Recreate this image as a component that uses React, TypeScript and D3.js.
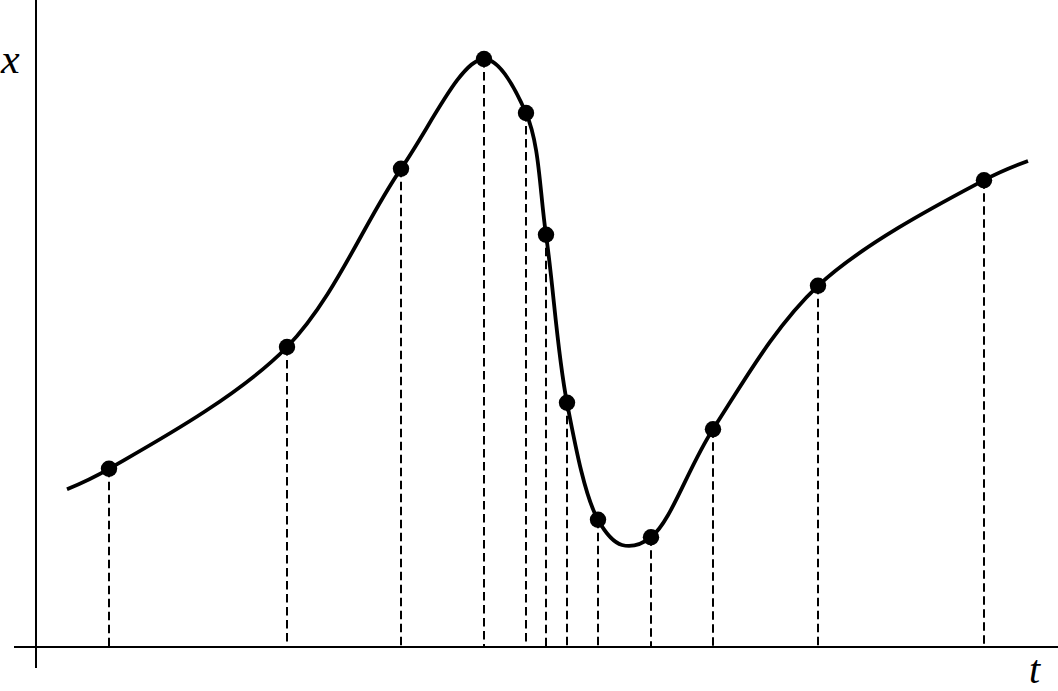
import React from "react";
import * as d3 from "d3";

// Sample instants (t) and values (x) of the marked points
const sampleT = [0.73, 2.51, 3.65, 4.48, 4.9, 5.1, 5.31, 5.62, 6.15, 6.77, 7.82, 9.48];
const sampleX = [2.97, 5.0, 7.97, 9.8, 8.9, 6.87, 4.07, 2.12, 1.83, 3.63, 6.02, 7.78];

// Extra points of the continuous curve (start, trough, end)
const extraT = [0.31, 5.86, 9.92];
const extraX = [2.63, 1.7, 8.1];

const W = 1058;
const H = 691;

export default function App() {
  const xs = d3.scaleLinear().domain([0, 10]).range([36, 1036]);
  const ys = d3.scaleLinear().domain([0, 10]).range([647, 47]);

  const samples = sampleT.map((t, i) => ({ t, x: sampleX[i] }));
  const curvePts = [...samples, ...extraT.map((t, i) => ({ t, x: extraX[i] }))].sort(
    (a, b) => a.t - b.t
  );

  const line = d3
    .line<{ t: number; x: number }>()
    .x((d) => xs(d.t))
    .y((d) => ys(d.x))
    .curve(d3.curveCatmullRom.alpha(0.5));

  const y0 = ys(0);
  const x0 = xs(0);

  return (
    <svg
      width={W}
      height={H}
      style={{ position: "fixed", left: 0, top: 0, background: "#fff" }}
    >
      {/* axes */}
      <line x1={x0} y1={0} x2={x0} y2={668} stroke="#000" strokeWidth={2} />
      <line x1={14} y1={y0} x2={W} y2={y0} stroke="#000" strokeWidth={2} />
      {/* drop lines */}
      {samples.map((d, i) => (
        <line
          key={"d" + i}
          x1={xs(d.t)}
          x2={xs(d.t)}
          y1={ys(d.x)}
          y2={y0}
          stroke="#000"
          strokeWidth={2}
          strokeDasharray="8.5,4.5"
        />
      ))}
      {/* curve */}
      <path d={line(curvePts) || ""} fill="none" stroke="#000" strokeWidth={3.8} />
      {/* points */}
      {samples.map((d, i) => (
        <circle key={"p" + i} cx={xs(d.t)} cy={ys(d.x)} r={8.2} fill="#000" />
      ))}
      {/* labels */}
      <text
        x={1}
        y={73}
        fontFamily="'Liberation Serif', serif"
        fontStyle="italic"
        fontSize={42}
      >
        x
      </text>
      <text
        x={1029}
        y={683}
        fontFamily="'Liberation Serif', serif"
        fontStyle="italic"
        fontSize={40}
      >
        t
      </text>
    </svg>
  );
}
